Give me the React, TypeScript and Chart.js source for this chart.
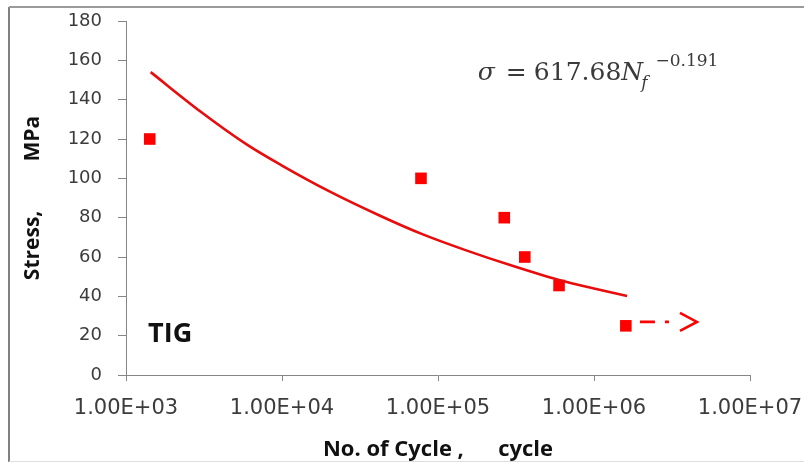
import React, { useEffect, useRef } from "react";
import { Chart, registerables } from "chart.js";

Chart.register(...registerables);

// ---- data ----
const testCycles = [1420, 77800, 266000, 360000, 597000, 1600000];
const testStress = [120, 100, 80, 60, 45.5, 25];

const fitCycles = [1440, 3000, 6000, 10000, 20000, 42500, 80000, 150000, 300000, 597000, 1000000, 1630000];
const fitStress = [154, 134, 117, 106.5, 93.5, 81, 71.5, 63.5, 55.5, 48.3, 44, 40.2];

// run-out arrow (dashed part) and its head
const arrowCycles = [1970000, 3070000];
const arrowStress = [27, 27];
const arrowTip = [4570000, 27];

const xTickValues = [1e3, 1e4, 1e5, 1e6, 1e7];
const xTickLabels = ["1.00E+03", "1.00E+04", "1.00E+05", "1.00E+06", "1.00E+07"];

const yTitle = "Stress,         MPa";
const xTitle = "No. of Cycle ,      cycle";
const labelText = "TIG";
const labelAnchor = [1385, 16.8];
const eqAnchor = [180000, 150];

const RED = "#ff0000";
const LINE_RED = "#e80c0c";
const AXIS = "#868686";

export default function App() {
  const ref = useRef<HTMLCanvasElement>(null);

  useEffect(() => {
    document.body.style.margin = "0";
    const canvas = ref.current!;

    const framePlugin = {
      id: "frame",
      beforeDraw(chart: any) {
        const c = chart.ctx;
        c.save();
        c.fillStyle = "#ffffff";
        c.fillRect(0, 0, chart.width, chart.height);
        c.restore();
      },
      afterDraw(chart: any) {
        const c = chart.ctx;
        c.save();
        c.strokeStyle = "#808080";
        c.lineWidth = 2;
        c.beginPath();
        c.moveTo(9, 7);
        c.lineTo(9, 462);
        c.stroke();
        c.strokeStyle = "#9a9a9a";
        c.beginPath();
        c.moveTo(9, 7);
        c.lineTo(chart.width, 7);
        c.stroke();
        c.strokeStyle = "#dddddd";
        c.lineWidth = 1;
        c.beginPath();
        c.moveTo(9, 461.5);
        c.lineTo(chart.width, 461.5);
        c.stroke();
        c.restore();
      },
    };

    const notesPlugin = {
      id: "notes",
      afterDatasetsDraw(chart: any) {
        const c = chart.ctx;
        const xs = chart.scales.x;
        const ys = chart.scales.y;
        c.save();
        // TIG label
        c.fillStyle = "#111111";
        c.textBaseline = "alphabetic";
        c.textAlign = "left";
        c.font = 'bold 27px "Open Sans"';
        c.fillText(labelText, xs.getPixelForValue(labelAnchor[0]), ys.getPixelForValue(labelAnchor[1]));

        // equation
        const x0 = xs.getPixelForValue(eqAnchor[0]);
        const y = ys.getPixelForValue(eqAnchor[1]);
        c.fillStyle = "#3a3a3a";
        c.font = 'italic 25px "DejaVu Serif"';
        c.fillText("σ", x0, y);
        c.font = '25px "DejaVu Serif"';
        c.fillText("=", x0 + 28, y);
        c.fillText("617.68", x0 + 56, y);
        let x = x0 + 56 + c.measureText("617.68").width;
        c.font = 'italic 25px "DejaVu Serif"';
        c.fillText("N", x, y);
        x += c.measureText("N").width - 2;
        c.font = 'italic 17px "DejaVu Serif"';
        c.fillText("f", x, y + 8);
        x += c.measureText("f").width + 8;
        c.font = '17px "DejaVu Serif"';
        c.fillText("−0.191", x, y - 14);

        // arrow head
        const tx = xs.getPixelForValue(arrowTip[0]);
        const ty = ys.getPixelForValue(arrowTip[1]);
        c.strokeStyle = RED;
        c.lineWidth = 2.6;
        c.lineJoin = "miter";
        c.beginPath();
        c.moveTo(tx - 17, ty - 9);
        c.lineTo(tx, ty);
        c.lineTo(tx - 17, ty + 9);
        c.stroke();
        c.restore();
      },
    };

    const chart = new Chart(canvas, {
      type: "scatter",
      data: {
        datasets: [
          {
            type: "line",
            data: fitCycles.map((v, i) => ({ x: v, y: fitStress[i] })),
            borderColor: LINE_RED,
            borderWidth: 2.6,
            pointRadius: 0,
            cubicInterpolationMode: "monotone",
            fill: false,
          },
          {
            type: "line",
            data: arrowCycles.map((v, i) => ({ x: v, y: arrowStress[i] })),
            borderColor: RED,
            borderWidth: 2.6,
            borderDash: [15, 10, 4, 10],
            pointRadius: 0,
            fill: false,
          },
          {
            data: testCycles.map((v, i) => ({ x: v, y: testStress[i] })),
            pointStyle: "rect",
            pointRadius: 8.2,
            backgroundColor: RED,
            borderColor: RED,
            borderWidth: 0,
          },
        ],
      },
      options: {
        responsive: false,
        animation: false,
        events: [],
        layout: { padding: { top: 21, right: 54, left: 0, bottom: 0 } },
        plugins: {
          legend: { display: false },
          tooltip: { enabled: false },
        },
        scales: {
          x: {
            type: "logarithmic",
            min: 1e3,
            max: 1e7,
            afterFit(scale: any) {
              scale.height = 88;
              scale.paddingLeft = 0;
              scale.paddingRight = 0;
            },
            afterBuildTicks(scale: any) {
              scale.ticks = xTickValues.map((v) => ({ value: v }));
            },
            border: { display: true, color: AXIS, width: 1 },
            grid: { display: true, drawOnChartArea: false, drawTicks: true, tickLength: 6, color: AXIS },
            ticks: {
              autoSkip: false,
              maxRotation: 0,
              padding: 15,
              color: "#3c3c3c",
              font: { family: '"DejaVu Sans"', size: 21 },
              callback: (_v: any, i: number) => xTickLabels[i],
            },
            title: {
              display: true,
              text: xTitle,
              color: "#111111",
              font: { family: '"Open Sans"', size: 22, weight: "bold" },
              padding: { top: 0, bottom: 0 },
            },
          },
          y: {
            min: 0,
            max: 180,
            afterFit(scale: any) {
              scale.width = 126;
              scale.paddingTop = 0;
              scale.paddingBottom = 0;
            },
            border: { display: true, color: AXIS, width: 1 },
            grid: { display: true, drawOnChartArea: false, drawTicks: true, tickLength: 8, color: AXIS },
            ticks: {
              stepSize: 20,
              padding: 16,
              color: "#3c3c3c",
              font: { family: '"DejaVu Sans"', size: 18 },
            },
            title: {
              display: true,
              text: yTitle,
              color: "#111111",
              font: { family: '"Open Sans"', size: 21, weight: "bold" },
              padding: { top: 20, bottom: 0 },
            },
          },
        },
      },
      plugins: [framePlugin, notesPlugin],
    });

    return () => chart.destroy();
  }, []);

  return <canvas ref={ref} width={804} height={463} style={{ display: "block" }} />;
}
